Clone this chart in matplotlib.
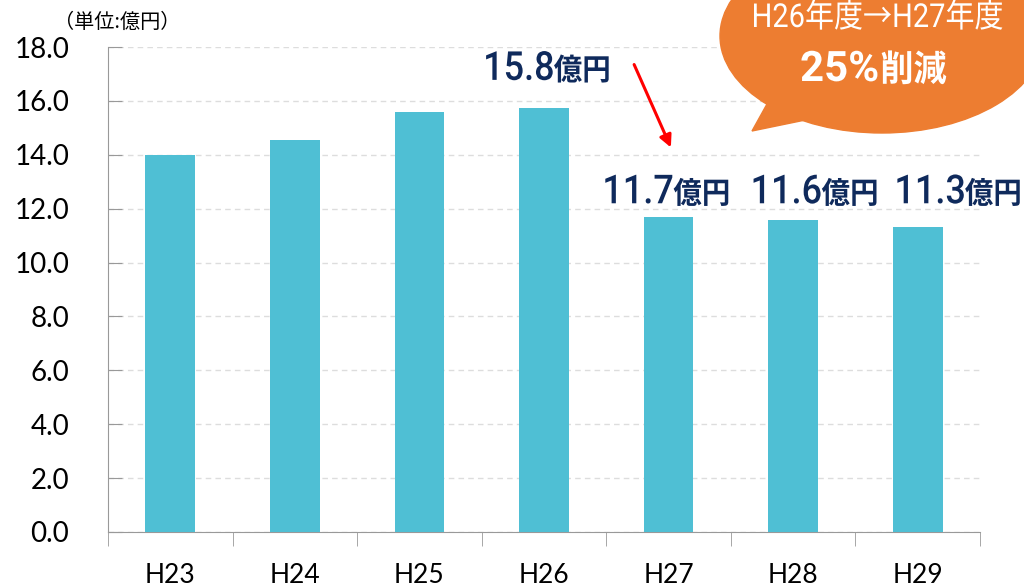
import matplotlib
matplotlib.use("Agg")
import matplotlib.pyplot as plt
from matplotlib.patches import Ellipse, Polygon, PathPatch
from matplotlib.textpath import TextPath
from matplotlib.font_manager import FontProperties
from matplotlib.transforms import Affine2D

categories = ["H23", "H24", "H25", "H26", "H27", "H28", "H29"]
values = [14.0, 14.55, 15.6, 15.75, 11.7, 11.58, 11.32]
yticks = [0, 2, 4, 6, 8, 10, 12, 14, 16, 18]
label_idx = [3, 4, 5, 6]
label_nums = ["15.8", "11.7", "11.6", "11.3"]

plt.rcParams['font.family'] = ['Lato', 'Noto Sans CJK JP', 'DejaVu Sans']

bar_color = "#4FBFD4"
navy = "#0F2A5C"

fig = plt.figure(figsize=(10.24, 5.87), dpi=100)
ax = fig.add_axes([108/1024, 55/587, 872/1024, 485/587])
x = list(range(len(categories)))
ax.bar(x, values, width=0.4, color=bar_color, zorder=3)
ax.set_xlim(-0.5, len(categories) - 0.5)
ax.set_ylim(0, 18)
ax.set_yticks(yticks)
ax.set_yticklabels([f"{v:.1f}" for v in yticks], fontsize=20)
ax.set_xticks(x)
ax.set_xticklabels(categories, fontsize=19)
ax.set_xticks([i - 0.5 for i in range(len(categories) + 1)], minor=True)
ax.tick_params(axis='x', which='major', length=0, pad=22)
ax.tick_params(axis='x', which='minor', length=10, color='#999999', direction='out')
ax.tick_params(axis='y', length=10, color='#999999', direction='in', pad=28)
ax.yaxis.grid(True, linestyle=(0, (4, 3)), color='#DDDDDD', linewidth=1, zorder=0)
for s in ['top', 'right']:
    ax.spines[s].set_visible(False)
for s in ['left', 'bottom']:
    ax.spines[s].set_color('#999999')

# overlay in pixel coordinates (y downward)
ov = fig.add_axes([0, 0, 1, 1], zorder=5)
ov.set_xlim(0, 1024)
ov.set_ylim(587, 0)
ov.axis('off')
ov.patch.set_alpha(0)


def ctext(x, y, s, px, family, weight, color, sx=0.85, ha='left', zorder=3):
    """Draw condensed text; (x, y) is the baseline anchor in pixel coords."""
    fp = FontProperties(family=family, weight=weight)
    tp = TextPath((0, 0), s, size=px, prop=fp)
    ext = tp.get_extents()
    w = (ext.x0 + ext.width) * sx
    if ha == 'right':
        x0 = x - w
    elif ha == 'center':
        x0 = x - w / 2
    else:
        x0 = x
    tr = Affine2D().scale(sx, -1).translate(x0, y)
    p = tr.transform_path(tp)
    ov.add_patch(PathPatch(p, facecolor=color, edgecolor='none', zorder=zorder))
    return x0 + w


def to_px(xd, yd):
    X, Y = ax.transData.transform((xd, yd))
    return X, 587 - Y


# value labels: split point (number right / unit left) in data coords
anchors = {3: (0.07, 16.78), 4: (0.03, 12.2), 5: (0.22, 12.2), 6: (0.37, 12.2)}
for i, t in zip(label_idx, label_nums):
    dx, yy = anchors[i]
    X, Y = to_px(i + dx, yy)
    ctext(X, Y, t, 40, ['Roboto'], 'medium', navy, sx=0.9, ha='right')
    ctext(X + 1, Y, "億円", 30, ['Noto Sans CJK JP'], 'bold', navy, sx=0.95, ha='left')

ov.text(117, 22, "（単位:億円）", ha='center', va='center', fontsize=14.5,
        family=['Noto Sans CJK JP', 'DejaVu Sans'], color='black')

ov.annotate("", xy=(672, 150), xytext=(633, 62),
            arrowprops=dict(arrowstyle='-|>', color='red', lw=2.2, mutation_scale=18))

orange = "#ED7D31"
ov.add_patch(Ellipse((882, 36), 324, 194, color=orange, zorder=1))
ov.add_patch(Polygon([[772, 95], [752, 131], [815, 118]], closed=True, color=orange, zorder=1))
ctext(877, 27, "H26年度→H27年度", 33, ['Roboto', 'Noto Sans CJK JP'], 'normal', 'white',
      sx=0.88, ha='center')
end = ctext(800, 81, "25%", 42, ['Roboto'], 'bold', 'white', sx=1.0, ha='left')
ctext(end + 3, 81, "削減", 36, ['Noto Sans CJK JP'], 'bold', 'white', sx=0.92, ha='left')

fig.savefig("out.png", dpi=100)
